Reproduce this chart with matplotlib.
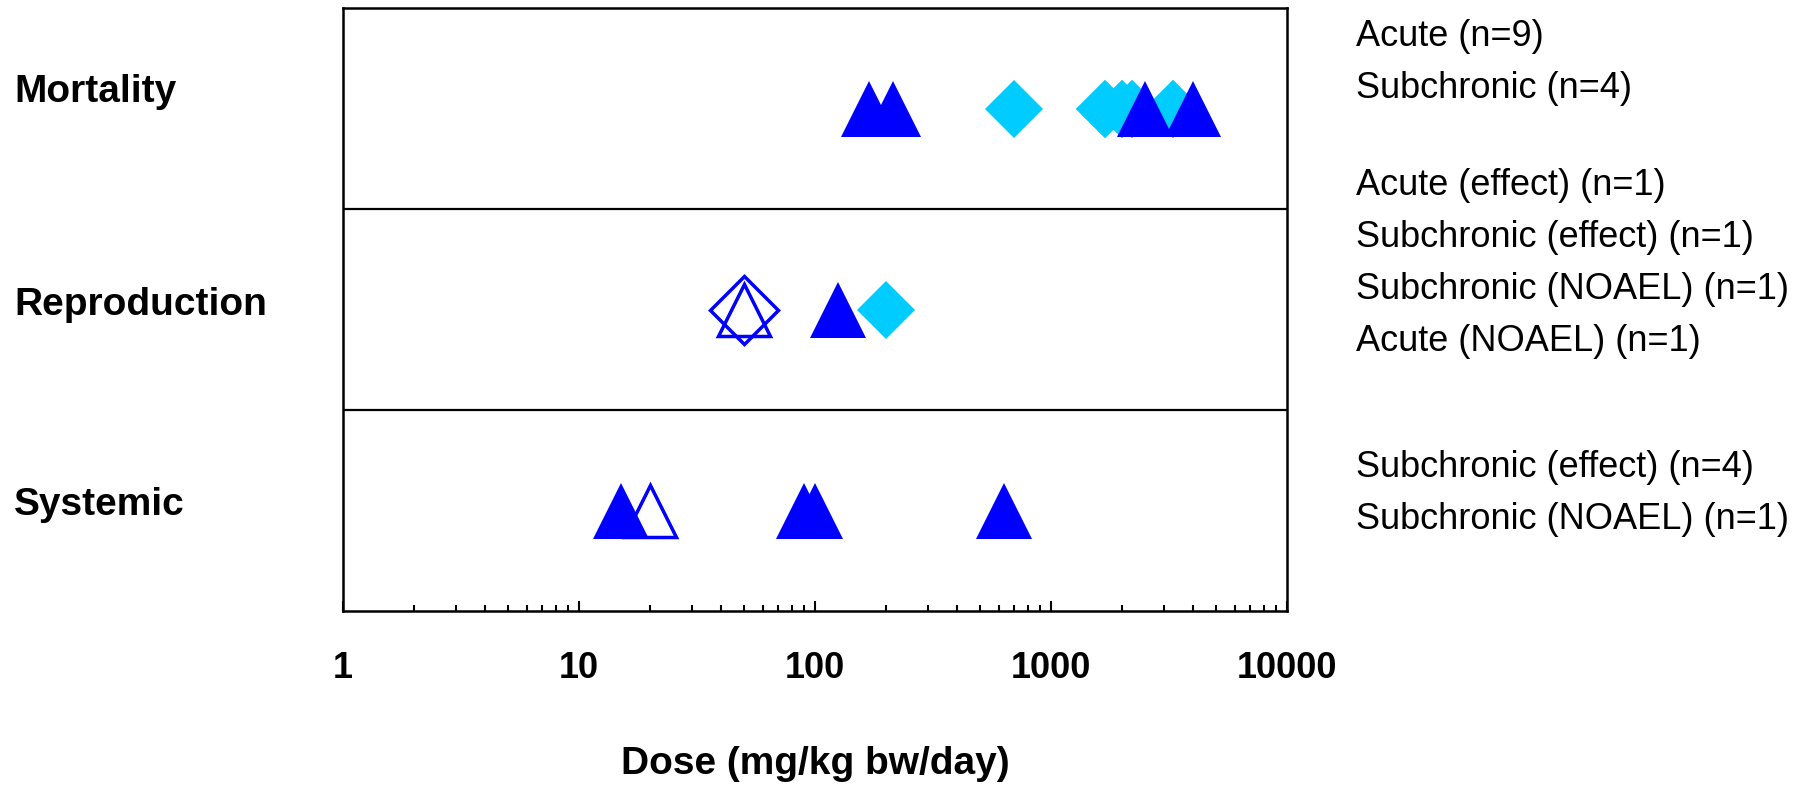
import matplotlib

matplotlib.use("Agg")
import matplotlib.pyplot as plt

plt.rcParams["font.family"] = ["Liberation Sans", "DejaVu Sans"]

BLUE = "#0000FF"
CYAN = "#00CCFF"

# dose values (mg/kg bw/day)
mortality_acute = [700, 1700, 1700, 2000, 2000, 2200, 2200, 3300, 3300]
mortality_subchronic = [170, 215, 2500, 4000]
repro_acute_noael = [50]
repro_subchronic_noael = [50]
repro_subchronic_effect = [125]
repro_acute_effect = [200]
systemic_subchronic_noael = [20]
systemic_subchronic_effect = [15, 90, 100, 630]

endpoints = ["Mortality", "Reproduction", "Systemic"]
row_y = [2.5, 1.5, 0.5]
legend_lines = [
    "Acute (n=9)",
    "Subchronic (n=4)",
    "Acute (effect) (n=1)",
    "Subchronic (effect) (n=1)",
    "Subchronic (NOAEL) (n=1)",
    "Acute (NOAEL) (n=1)",
    "Subchronic (effect) (n=4)",
    "Subchronic (NOAEL) (n=1)",
]
legend_baselines_px = [46, 98, 195, 247, 299, 351, 477, 529]
label_baselines_px = [102, 315, 515]
tick_values = [1, 10, 100, 1000, 10000]

W, H = 1818, 786
fig = plt.figure(figsize=(W / 100, H / 100), dpi=100)
ax = fig.add_axes([343 / W, 1 - 611 / H, (1287 - 343) / W, (611 - 8) / H])
ax.set_xscale("log")
ax.set_xlim(1, 10000)
ax.set_ylim(0, 3)

tri = dict(marker="^", ms=41, mew=0, ls="none", color=BLUE)
tri_open = dict(marker="^", ms=38, mew=2.5, ls="none", mec=BLUE, mfc="none")
dia = dict(marker="D", ms=30, mew=0, ls="none", color=CYAN)
dia_open = dict(marker="D", ms=35, mew=2.5, ls="none", mec=BLUE, mfc="none")

# Mortality
ax.plot(mortality_acute, [row_y[0]] * len(mortality_acute), **dia)
ax.plot(mortality_subchronic, [row_y[0]] * len(mortality_subchronic), **tri)

# Reproduction
ax.plot(repro_acute_noael, [row_y[1]] * len(repro_acute_noael), **dia_open)
ax.plot(repro_subchronic_noael, [row_y[1]] * len(repro_subchronic_noael), **tri_open)
ax.plot(repro_subchronic_effect, [row_y[1]] * len(repro_subchronic_effect), **tri)
ax.plot(repro_acute_effect, [row_y[1]] * len(repro_acute_effect), **dia)

# Systemic
ax.plot(systemic_subchronic_noael, [row_y[2]] * len(systemic_subchronic_noael), **tri_open)
ax.plot(systemic_subchronic_effect, [row_y[2]] * len(systemic_subchronic_effect), **tri)

for y in [1, 2]:
    ax.axhline(y, color="black", lw=1.6)

for s in ax.spines.values():
    s.set_linewidth(1.8)

ax.set_yticks([])
ax.set_xticks(tick_values, [str(v) for v in tick_values])
ax.tick_params(axis="x", which="major", direction="in", length=7, width=1.5,
               pad=29, labelsize=26)
ax.tick_params(axis="x", which="minor", direction="in", length=4, width=1.5)
for lab in ax.get_xticklabels():
    lab.set_fontweight("bold")

fig.text(815 / W, 1 - 764 / H, "Dose (mg/kg bw/day)", ha="center", va="center",
         fontsize=28, fontweight="bold")

for name, yb in zip(endpoints, label_baselines_px):
    fig.text(14 / W, 1 - yb / H, name, ha="left", va="baseline",
             fontsize=28, fontweight="bold")

for txt, yb in zip(legend_lines, legend_baselines_px):
    fig.text(1356 / W, 1 - yb / H, txt, ha="left", va="baseline", fontsize=26)

fig.savefig("out.png", dpi=100)
